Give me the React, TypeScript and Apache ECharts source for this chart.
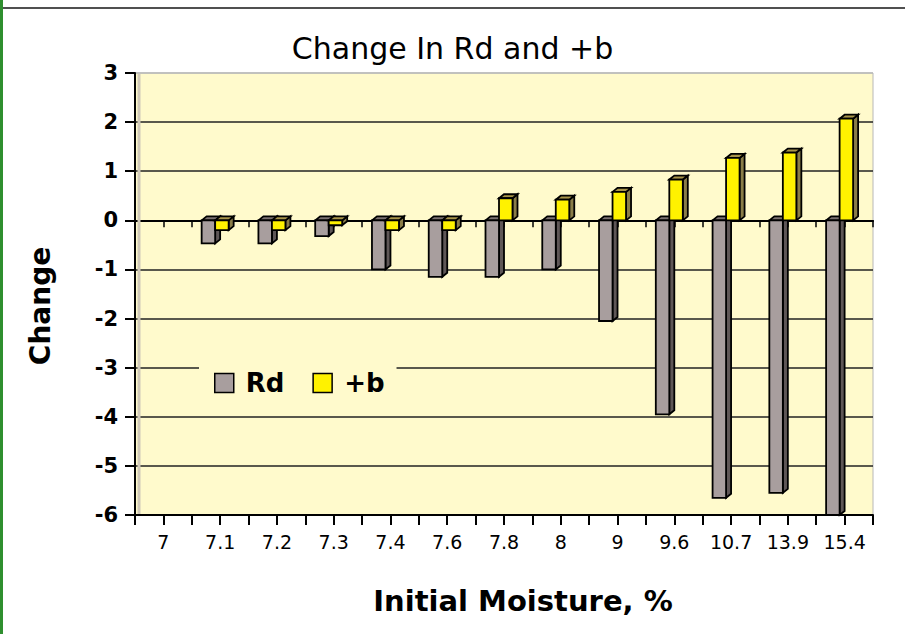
import React, { useEffect, useRef } from "react";
import * as echarts from "echarts";

const categories = ["7", "7.1", "7.2", "7.3", "7.4", "7.6", "7.8", "8", "9", "9.6", "10.7", "13.9", "15.4"];
const rdValues = [0, -0.47, -0.47, -0.32, -1.0, -1.15, -1.15, -1.0, -2.05, -3.95, -5.65, -5.55, -6.5];
const bValues = [0, -0.2, -0.2, -0.1, -0.2, -0.2, 0.45, 0.42, 0.58, 0.83, 1.27, 1.38, 2.07];
const yTicks = { min: -6, max: 3, interval: 1 };

const TITLE = "Change In Rd and +b";
const X_NAME = "Initial Moisture, %";
const Y_NAME = "Change";

const PLOT_BG = "#FFFACC";

function make3DRender(offset: number, front: string, side: string, top: string) {
  return (params: any, api: any) => {
    const idx = api.value(0);
    const v = api.value(1);
    if (!v) return null;
    const vc = Math.max(yTicks.min, Math.min(yTicks.max, v));
    const p0 = api.coord([idx, 0]);
    const p1 = api.coord([idx, vc]);
    const w = 13.5;
    const dx = 5;
    const dy = 4;
    const x0 = p0[0] + offset;
    const x1 = x0 + w;
    const yTop = Math.min(p0[1], p1[1]);
    const yBot = Math.max(p0[1], p1[1]);
    const stroke = { stroke: "#000", lineWidth: 1.8, lineJoin: "miter" };
    return {
      type: "group",
      children: [
        {
          type: "polygon",
          shape: { points: [[x1, yTop], [x1 + dx, yTop - dy], [x1 + dx, yBot - dy], [x1, yBot]] },
          style: { fill: side, ...stroke },
        },
        {
          type: "polygon",
          shape: { points: [[x0, yTop], [x0 + dx, yTop - dy], [x1 + dx, yTop - dy], [x1, yTop]] },
          style: { fill: top, ...stroke },
        },
        {
          type: "rect",
          shape: { x: x0, y: yTop, width: w, height: yBot - yTop },
          style: { fill: front, ...stroke },
        },
      ],
    };
  };
}

export default function App() {
  const ref = useRef<HTMLDivElement>(null);
  useEffect(() => {
    if (!ref.current) return;
    const chart = echarts.init(ref.current, null, { renderer: "svg" });
    const grid = { left: 135, right: 32, top: 73, bottom: 119 };
    const baseX = {
      type: "category",
      data: categories,
      gridIndex: 0,
      position: "bottom",
      boundaryGap: true,
    };
    const splitColors = ["#222", "#222", "#222", "#222", "#222", "#222", "#222", "#222", "#222", "#B8B8B8"];
    const option: any = {
      animation: false,
      backgroundColor: "#FFFFFF",
      title: {
        text: TITLE,
        left: "center",
        top: 28,
        textStyle: { fontFamily: "DejaVu Sans", fontSize: 30, fontWeight: "normal", color: "#000" },
      },
      grid: { ...grid, show: true, backgroundColor: PLOT_BG, borderColor: "#B8B8B8", borderWidth: 1 },
      legend: {
        left: 199,
        top: 355,
        orient: "horizontal",
        backgroundColor: PLOT_BG,
        padding: [15, 12, 13, 15],
        itemWidth: 19,
        itemHeight: 19,
        itemGap: 28,
        icon: "rect",
        textStyle: { fontFamily: "DejaVu Sans", fontWeight: "bold", fontSize: 26, color: "#000", padding: [0, 0, 0, 7] },
        data: [
          { name: "Rd", itemStyle: { color: "#A89E9E", borderColor: "#000", borderWidth: 1.5 } },
          { name: "+b", itemStyle: { color: "#FFF200", borderColor: "#000", borderWidth: 1.5 } },
        ],
      },
      xAxis: [
        {
          ...baseX,
          axisLine: { show: true, onZero: false, lineStyle: { color: "#000", width: 2 } },
          axisTick: { show: true, interval: 0, length: 10, lineStyle: { color: "#000", width: 2 } },
          axisLabel: { show: true, interval: 0, margin: 17, fontFamily: "DejaVu Sans", fontSize: 19, color: "#000" },
          splitLine: { show: false },
        },
        {
          ...baseX,
          axisLine: { show: false, onZero: false },
          axisTick: { show: true, interval: 0, alignWithLabel: true, length: 10, lineStyle: { color: "#000", width: 2 } },
          axisLabel: { show: false, interval: 0 },
          splitLine: { show: false },
        },
        {
          ...baseX,
          axisLine: { show: true, onZero: true, onZeroAxisIndex: 0, lineStyle: { color: "#000", width: 2 } },
          axisTick: { show: true, interval: 0, length: 7, lineStyle: { color: "#000", width: 1.5 } },
          axisLabel: { show: false, interval: 0 },
          splitLine: { show: false },
        },
        {
          ...baseX,
          axisLine: { show: false, onZero: true, onZeroAxisIndex: 0 },
          axisTick: { show: true, interval: 0, alignWithLabel: true, length: 7, lineStyle: { color: "#000", width: 1.5 } },
          axisLabel: { show: false, interval: 0 },
          splitLine: { show: false },
        },
      ],
      yAxis: {
        type: "value",
        min: yTicks.min,
        max: yTicks.max,
        interval: yTicks.interval,
        axisLine: { show: true, lineStyle: { color: "#000", width: 2 } },
        axisTick: { show: true, length: 10, lineStyle: { color: "#000", width: 2 } },
        axisLabel: { margin: 17, fontFamily: "DejaVu Sans", fontWeight: "bold", fontSize: 21, color: "#000" },
        splitLine: { show: true, lineStyle: { color: splitColors, width: 1.6 } },
      },
      graphic: [
        { type: "line", shape: { x1: 0, y1: 8, x2: 905, y2: 8 }, style: { stroke: "#505050", lineWidth: 2 } },
        { type: "line", shape: { x1: 1.5, y1: 0, x2: 1.5, y2: 634 }, style: { stroke: "#2F8F2F", lineWidth: 3 } },
        { type: "line", shape: { x1: 139, y1: 74, x2: 139, y2: 514 }, style: { stroke: "#CFC8B8", lineWidth: 3 }, z: 1 },
        {
          type: "text",
          x: 40,
          y: 306,
          rotation: Math.PI / 2,
          style: {
            text: Y_NAME,
            align: "center",
            verticalAlign: "middle",
            fontFamily: "DejaVu Sans",
            fontWeight: "bold",
            fontSize: 28,
            fill: "#000",
          },
        },
        {
          type: "text",
          x: 523,
          y: 601,
          style: {
            text: X_NAME,
            align: "center",
            verticalAlign: "middle",
            fontFamily: "DejaVu Sans",
            fontWeight: "bold",
            fontSize: 29,
            fill: "#000",
          },
        },
      ],
      series: [
        {
          name: "Rd",
          type: "custom",
          xAxisIndex: 0,
          itemStyle: { color: "#A89E9E" },
          renderItem: make3DRender(-18.5, "#A89E9E", "#5F5757", "#7A7070"),
          data: rdValues.map((v, i) => [i, v]),
          z: 3,
        },
        {
          name: "+b",
          type: "custom",
          xAxisIndex: 0,
          itemStyle: { color: "#FFF200" },
          renderItem: make3DRender(-5, "#FFF200", "#8A7D48", "#A8944A"),
          data: bValues.map((v, i) => [i, v]),
          z: 4,
        },
      ],
    };
    chart.setOption(option);
    return () => chart.dispose();
  }, []);
  return (
    <div
      ref={ref}
      style={{ position: "fixed", left: 0, top: 0, width: 905, height: 634, background: "#fff" }}
    />
  );
}
